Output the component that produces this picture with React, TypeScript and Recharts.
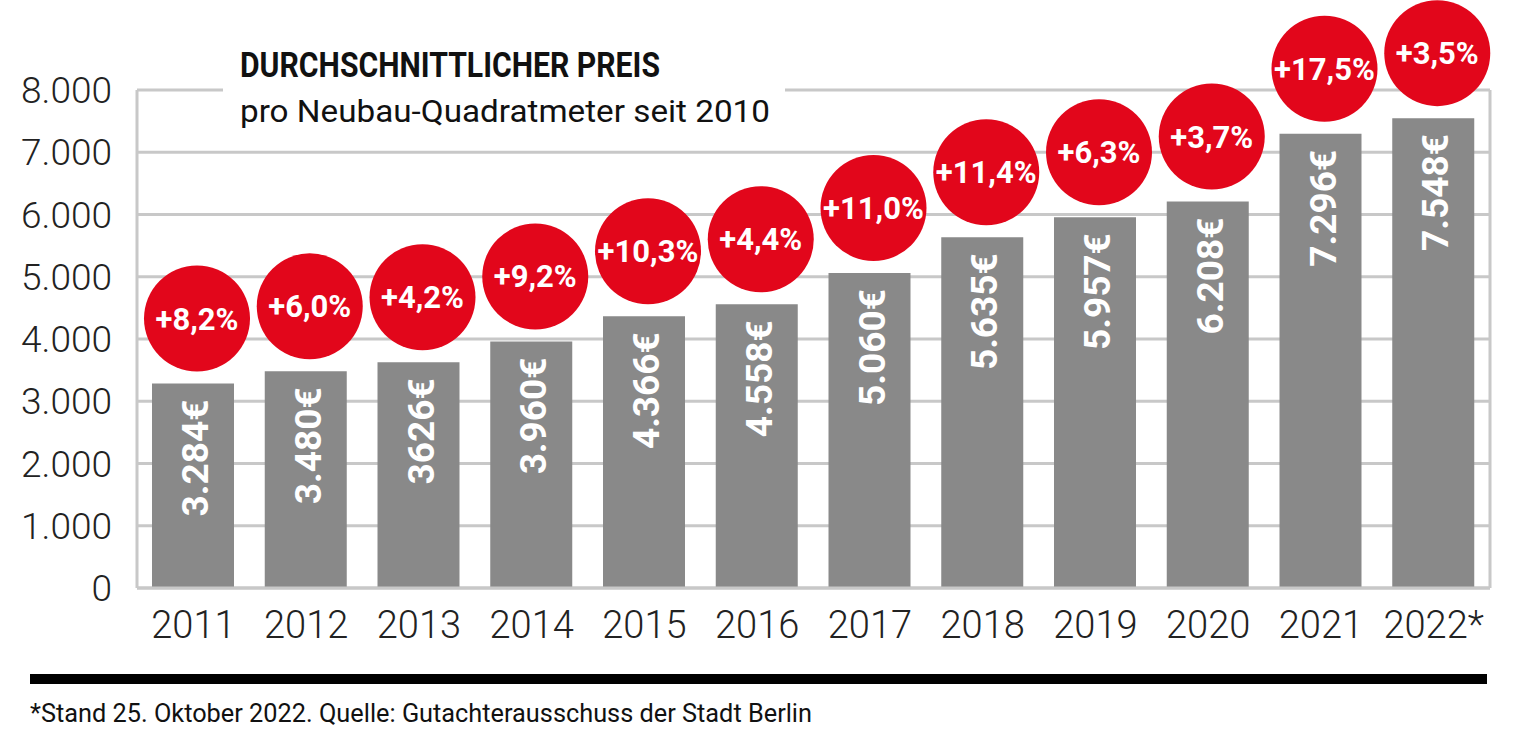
import { BarChart, Bar, XAxis, YAxis, CartesianGrid, LabelList } from "recharts"

const years = ["2011", "2012", "2013", "2014", "2015", "2016", "2017", "2018", "2019", "2020", "2021", "2022*"]
const prices = [3284, 3480, 3626, 3960, 4366, 4558, 5060, 5635, 5957, 6208, 7296, 7548]
const priceLabels = ["3.284€", "3.480€", "3626€", "3.960€", "4.366€", "4.558€", "5.060€", "5.635€", "5.957€", "6.208€", "7.296€", "7.548€"]
const changes = ["+8,2%", "+6,0%", "+4,2%", "+9,2%", "+10,3%", "+4,4%", "+11,0%", "+11,4%", "+6,3%", "+3,7%", "+17,5%", "+3,5%"]
const yTicks = [0, 1000, 2000, 3000, 4000, 5000, 6000, 7000, 8000]

const data = years.map((year, i) => ({
    year,
    value: prices[i],
    label: priceLabels[i],
    change: changes[i],
}))

const RED = "#e2061b"
const BAR = "#898989"
const GRID = "#c8c8c8"

const fmt = (v: number) => String(v).replace(/\B(?=(\d{3})+(?!\d))/g, ".")

function Badge(props: any) {
    const vb = props.viewBox ?? props
    const cx = vb.x + vb.width / 2 + 4
    const cy = vb.y - 65
    return (
        <g>
            <circle cx={cx} cy={cy} r={53} fill={RED} />
            <text x={cx} y={cy} dy="0.355em" textAnchor="middle" fill="#fff"
                fontFamily="Roboto" fontWeight={700} fontSize={31}>
                {props.value}
            </text>
        </g>
    )
}

function PriceLabel(props: any) {
    const vb = props.viewBox ?? props
    const cx = vb.x + vb.width / 2 + 2
    return (
        <text transform={`translate(${cx},${vb.y + 16}) rotate(-90)`} textAnchor="end" dy="0.355em"
            fill="#fff" fontFamily="Roboto" fontWeight={700} fontSize={37}>
            {props.value}
        </text>
    )
}

export default function App() {
    return (
        <div style={{ position: "absolute", left: 0, top: 0, width: 1513, height: 738, background: "#fff" }}>
            <BarChart width={1513} height={738} data={data} margin={{ top: 90, right: 23, bottom: 0, left: 0 }}>
                <CartesianGrid stroke={GRID} strokeWidth={3} vertical={true} verticalPoints={[1490]} />
                <XAxis dataKey="year" height={150} tickSize={0} tickMargin={23}
                    axisLine={{ stroke: GRID, strokeWidth: 3 }}
                    tick={{ fontSize: 38, fill: "#222", fontFamily: "Roboto", fontWeight: 300 }} />
                <YAxis width={137} domain={[0, 8000]} ticks={yTicks} tickFormatter={fmt}
                    tickSize={0} tickMargin={25}
                    axisLine={{ stroke: GRID, strokeWidth: 3 }}
                    tick={{ fontSize: 37, fill: "#222", fontFamily: "Roboto", fontWeight: 300 }} />
                <Bar dataKey="value" fill={BAR} barSize={82} isAnimationActive={false}>
                    <LabelList dataKey="label" content={PriceLabel} />
                    <LabelList dataKey="change" content={Badge} />
                </Bar>
            </BarChart>
            <svg width={1513} height={738} style={{ position: "absolute", left: 0, top: 0, pointerEvents: "none" }}>
                <rect x={223} y={40} width={562} height={98} fill="#fff" />
                <text x={240} y={77} fontFamily="Roboto" fontWeight={700} fontSize={35} fill="#111"
                    textLength={420} lengthAdjust="spacingAndGlyphs">
                    DURCHSCHNITTLICHER PREIS
                </text>
                <text x={240} y={122} fontFamily="Roboto" fontWeight={400} fontSize={31} fill="#111"
                    textLength={530} lengthAdjust="spacingAndGlyphs">
                    pro Neubau-Quadratmeter seit 2010
                </text>
                <rect x={30} y={674} width={1457} height={10} fill="#000" />
                <text x={30} y={722} fontFamily="Roboto" fontWeight={400} fontSize={26} fill="#111"
                    textLength={782} lengthAdjust="spacingAndGlyphs">
                    *Stand 25. Oktober 2022. Quelle: Gutachterausschuss der Stadt Berlin
                </text>
            </svg>
        </div>
    )
}
